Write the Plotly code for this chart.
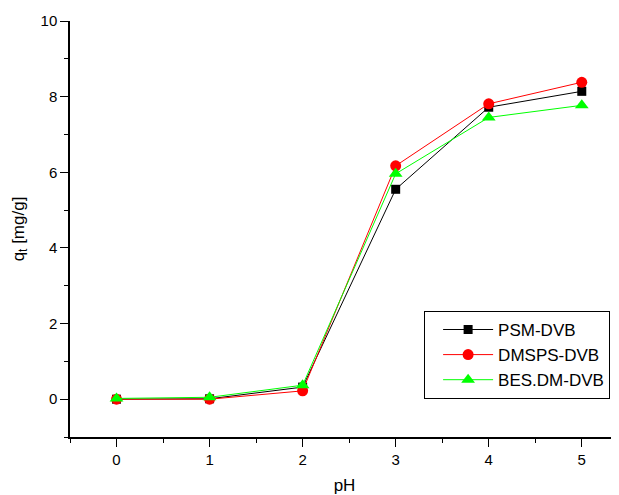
import plotly.graph_objects as go

ph = [0, 1, 2, 3, 4, 5]
psm_dvb = [0.0, 0.01, 0.32, 5.55, 7.72, 8.14]
dmsps_dvb = [0.0, 0.0, 0.22, 6.17, 7.81, 8.38]
bes_dm_dvb = [0.02, 0.05, 0.37, 5.96, 7.45, 7.77]

FONT = "Arial, Liberation Sans, sans-serif"

fig = go.Figure()
fig.add_trace(go.Scatter(x=ph, y=psm_dvb, mode="lines+markers", name="PSM-DVB",
                         line=dict(color="black", width=1),
                         marker=dict(symbol="square", size=9, color="black")))
fig.add_trace(go.Scatter(x=ph, y=dmsps_dvb, mode="lines+markers", name="DMSPS-DVB",
                         line=dict(color="red", width=1),
                         marker=dict(symbol="circle", size=11, color="red")))
fig.add_trace(go.Scatter(x=ph, y=bes_dm_dvb, mode="lines+markers", name="BES.DM-DVB",
                         line=dict(color="#00ff00", width=1),
                         marker=dict(symbol="triangle-up", size=12, color="#00ff00")))

axis_common = dict(showline=True, linecolor="black", linewidth=1.5, showgrid=False,
                   zeroline=False, ticks="outside", ticklen=8, tickwidth=1.2,
                   automargin=False,
                   tickcolor="black", tickfont=dict(family=FONT, size=15, color="black"))

fig.update_xaxes(range=[-0.5, 5.4], tickmode="array", tickvals=ph,
                 minor=dict(ticks="outside", ticklen=4, tickwidth=1.2, tickcolor="black", dtick=0.5, tick0=0.5, showgrid=False),
                 title=dict(text="pH", font=dict(family=FONT, size=17, color="black")),
                 **axis_common)
fig.update_yaxes(range=[-1, 10], tickvals=[0, 2, 4, 6, 8, 10],
                 minor=dict(ticks="outside", ticklen=4, tickwidth=1.2, tickcolor="black", dtick=1, tick0=1, showgrid=False),
                 title=dict(text="q<sub>t</sub> [mg/g]", font=dict(family=FONT, size=17, color="black"), standoff=12),
                 **axis_common)

# page has an 8px body margin; size/margins compensate so the plot area
# sits at x 70..619, y 21..437 in the window
fig.update_layout(
    width=611, height=487,
    margin=dict(l=62, r=0, t=13, b=58, autoexpand=False),
    plot_bgcolor="white", paper_bgcolor="white",
    showlegend=True,
    legend=dict(x=0.645, y=0.303, xanchor="left", yanchor="top",
                bgcolor="white", bordercolor="black", borderwidth=1,
                font=dict(family=FONT, size=17, color="black"),
                itemwidth=50, indentation=13, tracegroupgap=0),
)

fig.write_html("out.html")
